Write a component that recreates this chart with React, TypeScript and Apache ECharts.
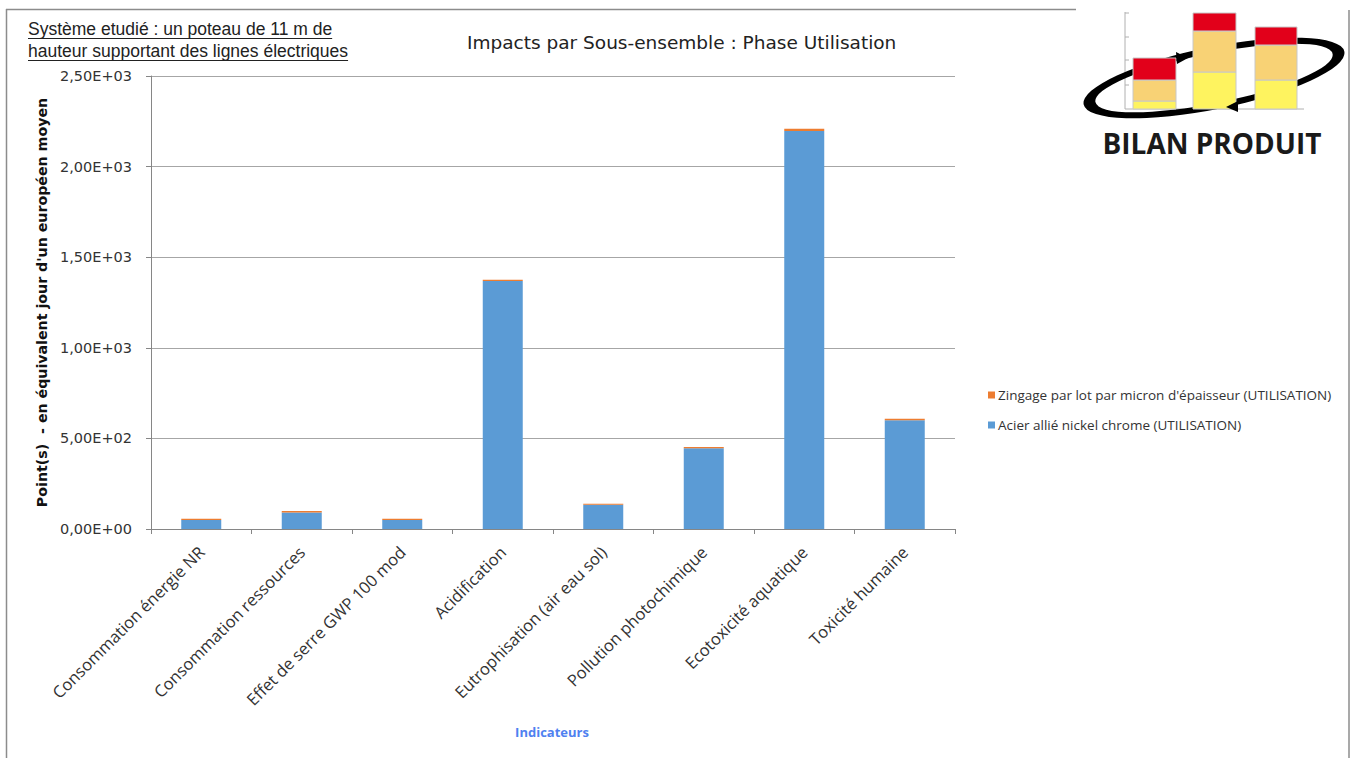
import React, { useEffect, useRef } from "react";
import * as echarts from "echarts";

const categories = [
  "Consommation énergie NR",
  "Consommation ressources",
  "Effet de serre GWP 100 mod",
  "Acidification",
  "Eutrophisation (air eau sol)",
  "Pollution photochimique",
  "Ecotoxicité aquatique",
  "Toxicité humaine",
];
const acierValues = [49, 91, 49, 1368, 134, 445, 2196, 600];
const zingageValues = [7, 8, 7, 8, 6, 8, 13, 9];
const seriesNames = [
  "Acier allié nickel chrome (UTILISATION)",
  "Zingage par lot par micron d'épaisseur (UTILISATION)",
];
const yMin = 0;
const yMax = 2500;
const yInterval = 500;
const titleText = "Impacts par Sous-ensemble : Phase Utilisation";
const subtitleLines = [
  "Système etudié : un poteau de 11 m de",
  "hauteur supportant des lignes électriques",
];
const yAxisTitle = "Point(s)  - en équivalent jour d'un européen moyen";
const xAxisTitle = "Indicateurs";
const logoText = "BILAN PRODUIT";

function sci(v: number): string {
  if (v === 0) return "0,00E+00";
  const e = Math.floor(Math.log10(Math.abs(v)));
  const m = v / Math.pow(10, e);
  const sign = e < 0 ? "-" : "+";
  const ae = Math.abs(e);
  return m.toFixed(2).replace(".", ",") + "E" + sign + (ae < 10 ? "0" + ae : "" + ae);
}

function measure(text: string, font: string): number {
  const c = document.createElement("canvas").getContext("2d");
  if (!c) return text.length * 8;
  c.font = font;
  return c.measureText(text).width;
}

export default function App() {
  const ref = useRef<HTMLDivElement>(null);
  useEffect(() => {
    if (!ref.current) return;
    const ringPath =
      "M -133 0 A 133 31 0 1 0 133 0 A 133 31 0 1 0 -133 0 Z " +
      "M -121 0 A 121 25 0 1 1 121 0 A 121 25 0 1 1 -121 0 Z";
    try {
      echarts.graphic.registerShape("logoRing", echarts.graphic.extendPath(ringPath as any, {}));
    } catch (e) {}

    const chart = echarts.init(ref.current, undefined, { renderer: "svg" });
    const subFont = "17.5px 'Liberation Sans'";
    const subW = subtitleLines.map((t) => measure(t, subFont));

    const logoBars = [
      { x: 1133, w: 43, segs: [[101, 109, "#fef35f"], [80, 101, "#f8d275"], [58, 80, "#e2001a"]] },
      { x: 1193, w: 43, segs: [[72, 109, "#fef35f"], [31, 72, "#f8d275"], [13, 31, "#e2001a"]] },
      { x: 1255, w: 42, segs: [[80, 109, "#fef35f"], [45, 80, "#f8d275"], [27, 45, "#e2001a"]] },
    ];
    const logoEls: any[] = [];
    logoEls.push({
      type: "line",
      shape: { x1: 1125, y1: 12, x2: 1125, y2: 109 },
      style: { stroke: "#b0b0b0", lineWidth: 1 },
    });
    [13, 37, 60, 85].forEach((y) =>
      logoEls.push({
        type: "line",
        shape: { x1: 1125, y1: y, x2: 1129, y2: y },
        style: { stroke: "#b0b0b0", lineWidth: 1 },
      })
    );
    logoEls.push({
      type: "line",
      shape: { x1: 1125, y1: 109, x2: 1304, y2: 109 },
      style: { stroke: "#b0b0b0", lineWidth: 1 },
    });
    logoEls.push({
      type: "logoRing",
      x: 1214,
      y: 78,
      rotation: 0.2,
      style: { fill: "#000", stroke: null },
    });
    logoBars.forEach((b) => {
      b.segs.forEach((s: any) =>
        logoEls.push({
          type: "rect",
          shape: { x: b.x, y: s[0], width: b.w, height: s[1] - s[0] },
          style: { fill: s[2], stroke: "#c8c8c8", lineWidth: 1 },
        })
      );
    });
    logoEls.push({
      type: "polygon",
      shape: { points: [[1176, 52], [1188, 58], [1177, 64]] },
      style: { fill: "#000" },
    });
    logoEls.push({
      type: "polygon",
      shape: { points: [[1238, 101], [1226, 107], [1238, 112]] },
      style: { fill: "#000" },
    });
    logoEls.push({
      type: "text",
      x: 1212,
      y: 143,
      style: {
        text: logoText,
        fill: "#1a1a1a",
        font: "bold 28px 'Open Sans'",
        align: "center",
        verticalAlign: "middle",
      },
    });

    const option: any = {
      animation: false,
      backgroundColor: "#ffffff",
      title: {
        text: titleText,
        left: 462,
        top: 28,
        textStyle: {
          fontFamily: "DejaVu Sans",
          fontSize: 18.5,
          fontWeight: "normal",
          color: "#222",
        },
      },
      legend: {
        orient: "vertical",
        left: 983,
        top: 381,
        itemWidth: 7,
        itemHeight: 7,
        itemGap: 12,
        icon: "rect",
        data: [seriesNames[1], seriesNames[0]],
        textStyle: {
          fontFamily: "Open Sans",
          fontSize: 13.5,
          color: "#333",
          lineHeight: 18,
          padding: [0, 0, 0, -2],
        },
      },
      grid: { left: 151, right: 400, top: 76, bottom: 229, containLabel: false },
      xAxis: {
        type: "category",
        data: categories,
        boundaryGap: true,
        axisLine: { show: true, lineStyle: { color: "#868686", width: 1 } },
        axisTick: { show: true, length: 5, interval: 0, lineStyle: { color: "#868686" } },
        axisLabel: {
          interval: 0,
          rotate: 45,
          margin: 20,
          fontFamily: "Open Sans",
          fontSize: 16.5,
          color: "#333",
        },
      },
      yAxis: {
        type: "value",
        min: yMin,
        max: yMax,
        interval: yInterval,
        name: yAxisTitle,
        nameLocation: "middle",
        nameGap: 100,
        nameTextStyle: {
          fontFamily: "DejaVu Sans",
          fontWeight: "bold",
          fontSize: 14.2,
          color: "#111",
        },
        axisLine: { show: true, lineStyle: { color: "#868686", width: 1 } },
        axisTick: { show: true, length: 5, inside: false, lineStyle: { color: "#868686" } },
        splitLine: { show: true, lineStyle: { color: "#a6a6a6", width: 1 } },
        axisLabel: {
          formatter: (v: number) => sci(v),
          margin: 19,
          fontFamily: "DejaVu Sans",
          fontSize: 14.5,
          color: "#333",
        },
      },
      series: [
        {
          name: seriesNames[0],
          type: "bar",
          stack: "total",
          barWidth: 40,
          data: acierValues,
          itemStyle: { color: "#5b9bd5" },
        },
        {
          name: seriesNames[1],
          type: "bar",
          stack: "total",
          barWidth: 40,
          data: zingageValues,
          itemStyle: { color: "#ed7d31" },
        },
      ],
      graphic: [
        {
          type: "line",
          shape: { x1: 6, y1: 9.5, x2: 1076, y2: 9.5 },
          style: { stroke: "#8c8c8c", lineWidth: 1.5 },
        },
        {
          type: "line",
          shape: { x1: 6.5, y1: 9, x2: 6.5, y2: 758 },
          style: { stroke: "#8c8c8c", lineWidth: 1.5 },
        },
        {
          type: "line",
          shape: { x1: 1349, y1: 10, x2: 1349, y2: 758 },
          style: { stroke: "#8c8c8c", lineWidth: 1.5 },
        },
        {
          type: "text",
          x: 28,
          y: 20,
          style: { text: subtitleLines[0], font: subFont, fill: "#222" },
        },
        {
          type: "line",
          shape: { x1: 28, y1: 38.5, x2: 28 + subW[0], y2: 38.5 },
          style: { stroke: "#222", lineWidth: 1 },
        },
        {
          type: "text",
          x: 28,
          y: 42,
          style: { text: subtitleLines[1], font: subFont, fill: "#222" },
        },
        {
          type: "line",
          shape: { x1: 28, y1: 60.5, x2: 28 + subW[1], y2: 60.5 },
          style: { stroke: "#222", lineWidth: 1 },
        },
        {
          type: "text",
          x: 552,
          y: 732,
          style: {
            text: xAxisTitle,
            font: "bold 13px 'Open Sans'",
            fill: "#4f81f0",
            align: "center",
            verticalAlign: "middle",
          },
        },
        ...logoEls,
      ],
    };
    chart.setOption(option);
    return () => chart.dispose();
  }, []);
  return (
    <div
      ref={ref}
      style={{ position: "fixed", left: 0, top: 0, width: 1355, height: 758 }}
    />
  );
}
